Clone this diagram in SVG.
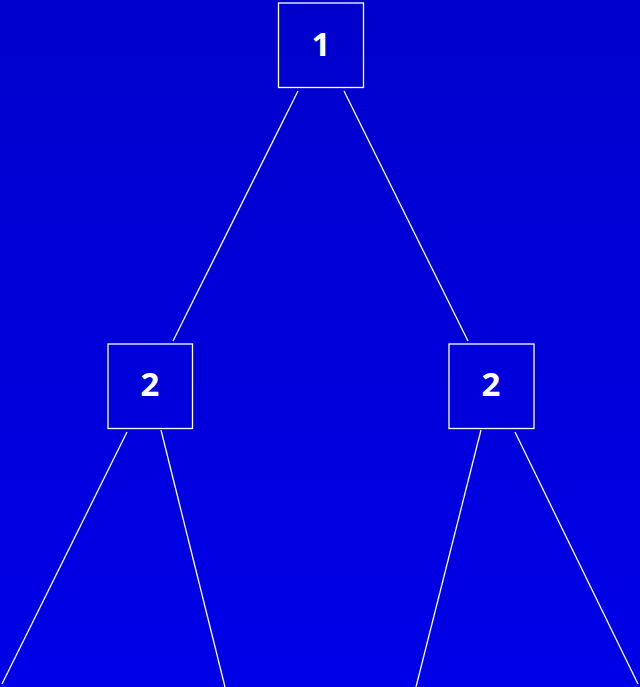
<svg xmlns="http://www.w3.org/2000/svg" width="640" height="687" viewBox="0 0 640 687">
<defs>
<linearGradient id="bg" x1="0" y1="0" x2="0" y2="1">
<stop offset="0" stop-color="#0000CC"/>
<stop offset="1" stop-color="#0000E8"/>
</linearGradient>
</defs>
<style>
.box{fill:none;stroke:#FFFFFF;stroke-width:1.3}
.lbl{fill:#FFFFFF;font-family:"Open Sans","DejaVu Sans",sans-serif;font-weight:bold;font-size:33px;text-anchor:middle}
.edge{stroke:#FFFFFF;stroke-width:1.3;fill:none}
</style>
<rect x="0" y="0" width="640" height="687" fill="url(#bg)"/>
<g id="connectors">
<line class="edge" x1="298" y1="91" x2="173" y2="341"/>
<line class="edge" x1="344" y1="91" x2="468" y2="341"/>
<line class="edge" x1="127" y1="432" x2="2" y2="684"/>
<line class="edge" x1="161" y1="430" x2="225" y2="687"/>
<line class="edge" x1="481" y1="430" x2="416" y2="687"/>
<line class="edge" x1="515" y1="432" x2="638" y2="684"/>
</g>
<g id="node-root">
<rect class="box" x="278.5" y="3" width="85" height="84.5"/>
<text class="lbl" x="321" y="56">1</text>
</g>
<g id="node-left">
<rect class="box" x="108" y="344" width="84.5" height="84.5"/>
<text class="lbl" x="150" y="396">2</text>
</g>
<g id="node-right">
<rect class="box" x="449" y="344" width="85" height="84.5"/>
<text class="lbl" x="491" y="396">2</text>
</g>
</svg>
